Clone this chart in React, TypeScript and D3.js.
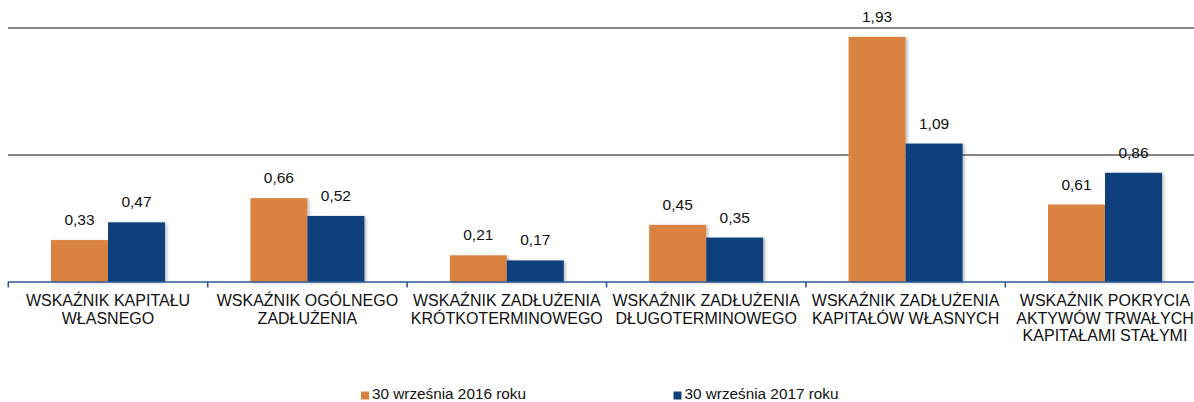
import React from "react";
import * as d3 from "d3";

const categories: string[][] = [
  ["WSKAŹNIK KAPITAŁU", "WŁASNEGO"],
  ["WSKAŹNIK OGÓLNEGO", "ZADŁUŻENIA"],
  ["WSKAŹNIK ZADŁUŻENIA", "KRÓTKOTERMINOWEGO"],
  ["WSKAŹNIK ZADŁUŻENIA", "DŁUGOTERMINOWEGO"],
  ["WSKAŹNIK ZADŁUŻENIA", "KAPITAŁÓW WŁASNYCH"],
  ["WSKAŹNIK POKRYCIA", "AKTYWÓW TRWAŁYCH", "KAPITAŁAMI STAŁYMI"],
];
const series2016: number[] = [0.33, 0.66, 0.21, 0.45, 1.93, 0.61];
const series2017: number[] = [0.47, 0.52, 0.17, 0.35, 1.09, 0.86];
const seriesNames: string[] = ["30 września 2016 roku", "30 września 2017 roku"];
const seriesColors: string[] = ["#DA833F", "#10407D"];
const gridTicks: number[] = [1, 2];

const W = 1194;
const H = 402;
const FONT = "'Liberation Sans', Arial, sans-serif";

export default function App() {
  const x0 = 8.3;
  const step = 199.4;
  const keys = categories.map((_, i) => String(i));
  const x = d3
    .scaleBand<string>()
    .domain(keys)
    .range([x0, x0 + step * categories.length])
    .padding(0);
  const barW = 57;
  const xi = d3
    .scaleBand<string>()
    .domain(["0", "1"])
    .range([(step - 2 * barW) / 2, (step + 2 * barW) / 2])
    .padding(0);
  const y = d3.scaleLinear().domain([0, 2]).range([282, 28]);
  const fmt = (v: number) => v.toFixed(2).replace(".", ",");
  const series = [series2016, series2017];

  return (
    <svg
      width={W}
      height={H}
      style={{ position: "absolute", left: 0, top: 0, display: "block" }}
      fontFamily={FONT}
    >
      <defs>
        <filter id="sh" x="-10%" y="-10%" width="130%" height="120%">
          <feDropShadow dx="2" dy="1" stdDeviation="1.5" floodColor="#000" floodOpacity="0.25" />
        </filter>
      </defs>
      <rect width={W} height={H} fill="#fff" />
      {gridTicks.map((t) => (
        <line key={t} x1={8} x2={W} y1={y(t)} y2={y(t)} stroke="#858585" strokeWidth={2} />
      ))}
      {categories.map((_, ci) =>
        series.map((s, si) => {
          const bx = (x(String(ci)) as number) + (xi(String(si)) as number);
          const v = s[ci];
          return (
            <g key={`${ci}-${si}`}>
              <rect
                x={bx}
                y={y(v)}
                width={barW}
                height={y(0) - y(v)}
                fill={seriesColors[si]}
                filter="url(#sh)"
              />
              <text
                x={bx + barW / 2}
                y={y(v) - 15}
                textAnchor="middle"
                fontSize={15.5}
                fill="#111"
              >
                {fmt(v)}
              </text>
            </g>
          );
        })
      )}
      <line x1={8} x2={W} y1={y(0)} y2={y(0)} stroke="#2E5A94" strokeWidth={1.6} />
      {d3.range(categories.length + 1).map((i) => {
        const tx = x0 + i * step;
        return <line key={i} x1={tx} x2={tx} y1={y(0)} y2={y(0) + 5.5} stroke="#2E5A94" strokeWidth={1.6} />;
      })}
      {categories.map((lines, ci) => {
        const cx = (x(String(ci)) as number) + x.bandwidth() / 2;
        return (
          <text key={ci} textAnchor="middle" fontSize={16} fill="#111">
            {lines.map((l, li) => (
              <tspan key={li} x={cx} y={306 + li * 17.5}>
                {l}
              </tspan>
            ))}
          </text>
        );
      })}
      {seriesNames.map((n, i) => {
        const lx = [361, 673.5][i];
        return (
          <g key={n}>
            <rect x={lx} y={391.5} width={8} height={8} fill={seriesColors[i]} />
            <text x={lx + 11} y={399} fontSize={15.3} fill="#111">
              {n}
            </text>
          </g>
        );
      })}
    </svg>
  );
}
